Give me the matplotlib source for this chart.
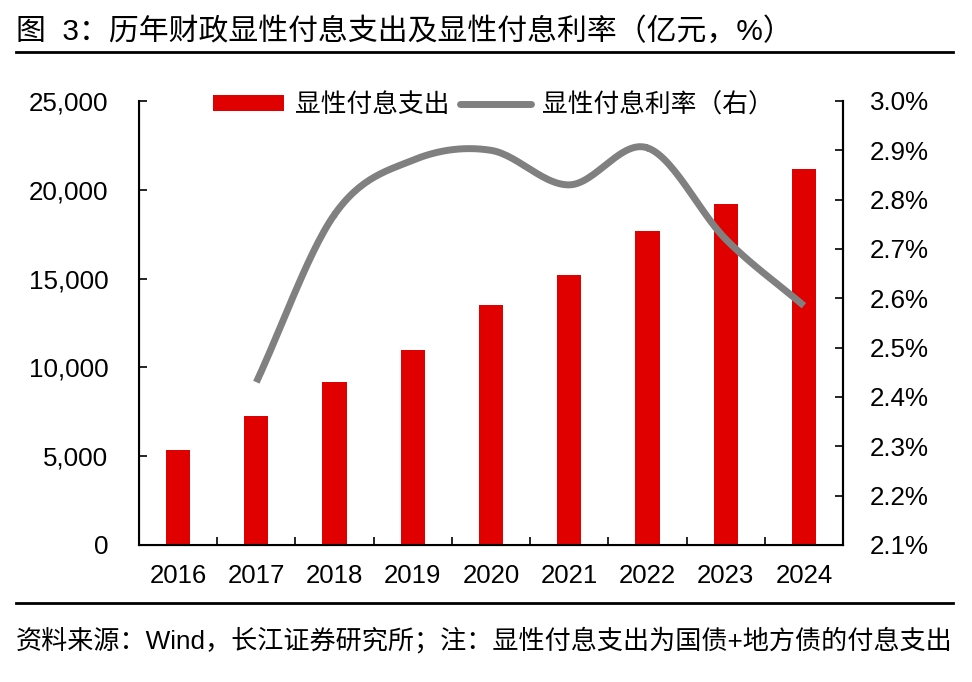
import numpy as np
import matplotlib
matplotlib.use('Agg')
import matplotlib.pyplot as plt
from matplotlib.lines import Line2D
from matplotlib.patches import Patch

plt.rcParams['font.family'] = ['Liberation Sans', 'Noto Sans CJK SC', 'DejaVu Sans']

# 数据
years = ['2016', '2017', '2018', '2019', '2020', '2021', '2022', '2023', '2024']
interest_paid = [5350, 7280, 9180, 10980, 13500, 15200, 17680, 19200, 21180]   # 亿元
interest_rate = [np.nan, 2.43, 2.77, 2.88, 2.90, 2.83, 2.905, 2.72, 2.585]     # %
left_ticks = [0, 5000, 10000, 15000, 20000, 25000]
right_ticks = [2.1, 2.2, 2.3, 2.4, 2.5, 2.6, 2.7, 2.8, 2.9, 3.0]

title = '图  3：历年财政显性付息支出及显性付息利率（亿元，%）'
source = '资料来源：Wind，长江证券研究所；注：显性付息支出为国债+地方债的付息支出'

RED = '#e00000'
GREY = '#808080'


# Excel风格的平滑曲线（Catmull-Rom）
def smooth(x, y, n=30):
    x = np.asarray(x, float)
    y = np.asarray(y, float)
    px = np.concatenate([[2 * x[0] - x[1]], x, [2 * x[-1] - x[-2]]])
    py = np.concatenate([[2 * y[0] - y[1]], y, [2 * y[-1] - y[-2]]])
    xs, ys = [], []
    t = np.linspace(0, 1, n)
    for i in range(1, len(px) - 2):
        for p, out in ((px, xs), (py, ys)):
            p0, p1, p2, p3 = p[i - 1], p[i], p[i + 1], p[i + 2]
            c = 0.5 * ((2 * p1) + (-p0 + p2) * t + (2 * p0 - 5 * p1 + 4 * p2 - p3) * t ** 2
                       + (-p0 + 3 * p1 - 3 * p2 + p3) * t ** 3)
            out.extend(c)
    return np.array(xs), np.array(ys)


fig = plt.figure(figsize=(9.72, 6.82), dpi=100)
ax = fig.add_axes([139 / 972, 1 - 545 / 682, (843 - 139) / 972, (545 - 101) / 682])

x = np.arange(len(years))
ax.bar(x, interest_paid, width=0.31, color=RED, zorder=2)
ax.set_xlim(-0.5, len(years) - 0.5)
ax.set_ylim(0, 25000)
ax.set_yticks(left_ticks)
ax.set_yticklabels(['{:,}'.format(v) for v in left_ticks])
ax.set_xticks(x)
ax.set_xticklabels(years)
ax.set_xticks(np.arange(len(years) - 1) + 0.5, minor=True)
ax.tick_params(axis='x', which='major', length=0, pad=14, labelsize=18.5)
ax.tick_params(axis='x', which='minor', direction='in', length=6, width=1.2)
ax.tick_params(axis='y', direction='in', length=6, width=1.2, pad=22, labelsize=18.7)
ax.spines['top'].set_visible(False)
for s in ['left', 'bottom', 'right']:
    ax.spines[s].set_linewidth(1.5)

ax2 = ax.twinx()
mask = ~np.isnan(interest_rate)
sx, sy = smooth(x[mask], np.array(interest_rate)[mask])
ax2.plot(sx, sy, color=GREY, lw=5, solid_capstyle='butt', zorder=3)
ax2.set_ylim(2.1, 3.0)
ax2.set_yticks(right_ticks)
ax2.set_yticklabels(['{:.1f}%'.format(v) for v in right_ticks])
ax2.tick_params(axis='y', direction='in', length=6, width=1.2, pad=19.5, labelsize=18.7)
ax2.spines['top'].set_visible(False)
ax2.spines['right'].set_linewidth(1.5)

handles = [Patch(facecolor=RED, edgecolor='none'),
           Line2D([0], [0], color=GREY, lw=5, solid_capstyle='round')]
fig.legend(handles, ['显性付息支出', '显性付息利率（右）'], loc='center',
           bbox_to_anchor=(493 / 972, 1 - 105 / 682), ncol=2, frameon=False,
           fontsize=18.5, handlelength=2.8, handleheight=0.6, handletextpad=0.4,
           columnspacing=0.4)

# 标题与注释
fig.text(16 / 972, 1 - 31 / 682, title, fontsize=21.5, va='center', ha='left')
fig.add_artist(Line2D([16 / 972, 953 / 972], [1 - 52 / 682] * 2, color='black', lw=2))
fig.add_artist(Line2D([16 / 972, 953 / 972], [1 - 603 / 682] * 2, color='black', lw=2))
fig.text(16 / 972, 1 - 640 / 682, source, fontsize=18.8, va='center', ha='left')

fig.savefig('out.png', dpi=100)
